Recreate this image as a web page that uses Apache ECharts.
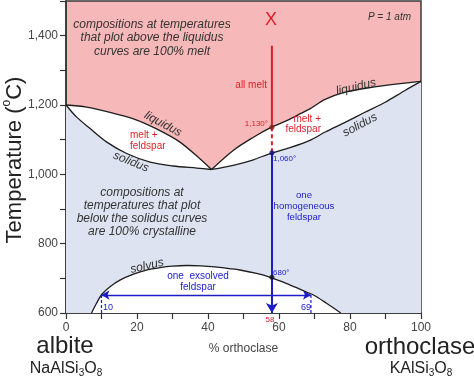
<!DOCTYPE html>
<html><head><meta charset="utf-8">
<script src="https://cdn.jsdelivr.net/npm/echarts@6/dist/echarts.min.js"></script>
<style>html,body{margin:0;padding:0;background:#fff}#c{width:474px;height:378px}</style>
</head><body><div id="c"></div>
<script>
// ---------- data ----------
const liquidusLeftX = [0, 5.8, 12.4, 19.0, 25.5, 32.1, 37.7, 41];
const liquidusLeftT = [1200, 1194, 1179, 1160, 1131, 1093, 1045, 1014];
const solidusLeftX  = [0, 3.0, 6.8, 11.5, 17.1, 23.7, 30.2, 36.8, 41];
const solidusLeftT  = [1200, 1165, 1132, 1093, 1060, 1035, 1024, 1018, 1014];
const liquidusRightX = [41, 47.1, 52.8, 57.5, 62.2, 66.0, 68.7, 73.0, 78.6, 86.1, 93.6, 100];
const liquidusRightT = [1014, 1069, 1107, 1134, 1155, 1175, 1189, 1216, 1237, 1251, 1261, 1268];
const solidusRightX = [41, 47.1, 52.8, 57.5, 63.1, 68.7, 73.0, 78.6, 84.2, 89.9, 95.5, 100];
const solidusRightT = [1014, 1026, 1042, 1060, 1077, 1098, 1122, 1150, 1179, 1208, 1242, 1268];
const solvusX = [7.2, 8.6, 10.1, 12.4, 15.2, 19.0, 22.7, 26.5, 30, 34, 38, 42, 46, 49, 53.7, 57.5, 62.2, 66.0, 69.7, 73.4, 77.4];
const solvusT = [600, 628, 654, 676, 695, 712, 724, 731, 735, 737, 736, 733, 728, 724, 714, 703, 685, 668, 652, 628, 600];

const bulkX = 58;          // % orthoclase of the cooled melt
const startT = 1371;       // top of the cooling path
const liquidusHitT = 1136; // 1,130°
const solidusHitT = 1062;  // 1,060°
const solvusHitT = 703;    // 680°
const exsolveT = 652;      // level of the exsolution arrow
const exsolveLeftX = 10;
const exsolveRightX = 69;

const xTicks = [0, 20, 40, 60, 80, 100];
const yTicks = [600, 800, 1000, 1200, 1400];

// ---------- helpers ----------
const FONT = '"Liberation Sans", Arial, Helvetica, sans-serif';
const zip = (xs, ys) => xs.map((x, i) => [x, ys[i]]);
const liqL = zip(liquidusLeftX, liquidusLeftT);
const solL = zip(solidusLeftX, solidusLeftT);
const liqR = zip(liquidusRightX, liquidusRightT);
const solR = zip(solidusRightX, solidusRightT);
const solv = zip(solvusX, solvusT);

function polygon(points, fill, z) {
  return {
    type: 'custom', coordinateSystem: 'cartesian2d', silent: true, z: z,
    data: [[50, 1000]],
    renderItem: (params, api) => ({
      type: 'polygon',
      shape: { points: points.map(p => api.coord(p)) },
      style: { fill: fill, stroke: null }
    })
  };
}
function curve(pts) {
  return {
    type: 'custom', coordinateSystem: 'cartesian2d', silent: true, z: 5,
    data: [[50, 1000]],
    renderItem: (params, api) => ({
      type: 'polyline',
      shape: { points: pts.map(p => api.coord(p)), smooth: 0.3 },
      style: { fill: null, stroke: '#1e1e1e', lineWidth: 1.3 }
    })
  };
}
const fmtT = v => v >= 1000 ? Math.floor(v / 1000) + ',' + String(v % 1000).padStart(3, '0') : String(v);

const RED = '#dc1f26', BLUE = '#1c1cc8', TXT = '#333333';

const belowSolidus = [[0, 600]].concat(solL, solR.slice(1), [[100, 600]]);
const lensLeft = liqL.concat(solL.slice().reverse().slice(1));
const lensRight = liqR.concat(solR.slice().reverse().slice(1));
const solvusArea = solv.slice();

const option = {
  animation: false,
  grid: { left: 66, right: 53, top: 1, bottom: 65, show: true, backgroundColor: '#f6b8b8',
          borderColor: '#3a3a3a', borderWidth: 1.5 },
  xAxis: {
    type: 'value', min: 0, max: 100, interval: 10,
    axisLine: { show: true, lineStyle: { color: '#333', width: 1.5 } },
    axisTick: { show: true, length: 6, lineStyle: { color: '#333', width: 1.2 } },
    splitLine: { show: false },
    axisLabel: { formatter: v => xTicks.includes(v) ? String(v) : '', color: '#444', fontSize: 12, margin: 9, fontFamily: FONT },
    name: '% orthoclase', nameLocation: 'middle', nameGap: 30,
    nameTextStyle: { color: '#444', fontSize: 12, fontFamily: FONT }
  },
  yAxis: {
    type: 'value', min: 600, max: 1500, interval: 100,
    axisLine: { show: true, lineStyle: { color: '#333', width: 1.5 } },
    axisTick: { show: true, length: 6, lineStyle: { color: '#333', width: 1.2 } },
    splitLine: { show: false },
    axisLabel: { formatter: v => yTicks.includes(v) ? fmtT(v) : '', color: '#444', fontSize: 12, margin: 8, fontFamily: FONT }
  },
  series: [
    polygon(belowSolidus, '#dde3f0', 1),
    polygon(lensLeft, '#ffffff', 2),
    polygon(lensRight, '#ffffff', 2),
    polygon(solvusArea, '#ffffff', 2),
    curve(liqL), curve(solL), curve(liqR), curve(solR), curve(solv),
    { type: 'line', data: [[bulkX, startT], [bulkX, liquidusHitT]], symbol: 'none', silent: true, z: 6,
      lineStyle: { color: RED, width: 2 } },
    { type: 'line', data: [[bulkX, liquidusHitT], [bulkX, solidusHitT]], symbol: 'none', silent: true, z: 6,
      lineStyle: { color: RED, width: 2, type: [4, 3] } },
    { type: 'line', data: [], silent: true, z: 6,
      markLine: { silent: true, animation: false, symbol: ['none', 'arrow'], symbolSize: [9, 10],
        label: { show: false }, lineStyle: { color: BLUE, width: 2, type: 'solid' },
        data: [[{ coord: [bulkX, solidusHitT] }, { coord: [bulkX, 600] }]] } },
    { type: 'line', data: [], silent: true, z: 6,
      markLine: { silent: true, animation: false, symbol: ['arrow', 'arrow'], symbolSize: [7, 8],
        label: { show: false }, lineStyle: { color: BLUE, width: 1.3, type: 'solid' },
        data: [[{ coord: [exsolveLeftX, exsolveT] }, { coord: [exsolveRightX, exsolveT] }]] } },
    { type: 'line', data: [[exsolveLeftX, exsolveT], [exsolveLeftX, 600]], symbol: 'none', silent: true, z: 6,
      lineStyle: { color: BLUE, width: 1.2, type: [3, 2] } },
    { type: 'line', data: [[exsolveRightX, exsolveT], [exsolveRightX, 600]], symbol: 'none', silent: true, z: 6,
      lineStyle: { color: BLUE, width: 1.2, type: [3, 2] } },
    { type: 'scatter', symbolSize: 5, silent: true, z: 7,
      data: [
        { value: [bulkX, liquidusHitT], itemStyle: { color: '#8a1a1a' } },
        { value: [bulkX, solidusHitT], itemStyle: { color: '#10108a' } },
        { value: [bulkX, solvusHitT], itemStyle: { color: '#111' } }
      ] }
  ],
  graphic: [
    { type: 'text', x: 152, y: 38, z: 100, style: { text: 'compositions at temperatures\nthat plot above the liquidus\ncurves are 100% melt',
      fill: TXT, fontSize: 12, fontStyle: 'italic', fontFamily: FONT, align: 'center', verticalAlign: 'middle', lineHeight: 13.5 } },
    { type: 'text', x: 142, y: 212, z: 100, style: { text: 'compositions at\ntemperatures that plot\nbelow the solidus curves\nare 100% crystalline',
      fill: TXT, fontSize: 12, fontStyle: 'italic', fontFamily: FONT, align: 'center', verticalAlign: 'middle', lineHeight: 12.8 } },
    { type: 'text', x: 411, y: 17, z: 100, style: { text: 'P = 1 atm', fill: TXT, fontSize: 10, fontStyle: 'italic', fontFamily: FONT, align: 'right', verticalAlign: 'middle' } },
    { type: 'text', x: 271, y: 20, z: 100, style: { text: 'X', fill: RED, fontSize: 18, fontFamily: FONT, align: 'center', verticalAlign: 'middle' } },
    { type: 'text', x: 267, y: 85, z: 100, style: { text: 'all melt', fill: RED, fontSize: 10, fontFamily: FONT, align: 'right', verticalAlign: 'middle' } },
    { type: 'text', x: 268, y: 124, z: 100, style: { text: '1,130°', fill: RED, fontSize: 8, fontFamily: FONT, align: 'right', verticalAlign: 'middle' } },
    { type: 'text', x: 273, y: 159, z: 100, style: { text: '1,060°', fill: BLUE, fontSize: 8, fontFamily: FONT, align: 'left', verticalAlign: 'middle' } },
    { type: 'text', x: 273, y: 273, z: 100, style: { text: '680°', fill: BLUE, fontSize: 8, fontFamily: FONT, align: 'left', verticalAlign: 'middle' } },
    { type: 'text', x: 270, y: 320, z: 100, style: { text: '58', fill: RED, fontSize: 8, fontFamily: FONT, align: 'center', verticalAlign: 'middle' } },
    { type: 'text', x: 103, y: 308, z: 100, style: { text: '10', fill: BLUE, fontSize: 9, fontFamily: FONT, align: 'left', verticalAlign: 'middle' } },
    { type: 'text', x: 311, y: 308, z: 100, style: { text: '69', fill: BLUE, fontSize: 9, fontFamily: FONT, align: 'right', verticalAlign: 'middle' } },
    { type: 'text', x: 130, y: 141, z: 100, style: { text: 'melt +\nfeldspar', fill: RED, fontSize: 10, fontFamily: FONT, align: 'left', verticalAlign: 'middle', lineHeight: 11 } },
    { type: 'text', x: 321, y: 124, z: 100, style: { text: 'melt +\nfeldspar', fill: RED, fontSize: 10, fontFamily: FONT, align: 'right', verticalAlign: 'middle', lineHeight: 10.5 } },
    { type: 'text', x: 198, y: 281.5, z: 100, style: { text: 'one  exsolved\nfeldspar', fill: BLUE, fontSize: 10, fontFamily: FONT, align: 'center', verticalAlign: 'middle', lineHeight: 11 } },
    { type: 'text', x: 304, y: 206, z: 100, style: { text: 'one\nhomogeneous\nfeldspar', fill: BLUE, fontSize: 9.6, fontFamily: FONT, align: 'center', verticalAlign: 'middle', lineHeight: 11 } },
    { type: 'text', x: 163, y: 124, rotation: -28 * Math.PI / 180, z: 100, style: { text: 'liquidus', fill: TXT, fontSize: 12, fontStyle: 'italic', fontFamily: FONT, align: 'center', verticalAlign: 'middle' } },
    { type: 'text', x: 131, y: 162, rotation: -22 * Math.PI / 180, z: 100, style: { text: 'solidus', fill: TXT, fontSize: 12, fontStyle: 'italic', fontFamily: FONT, align: 'center', verticalAlign: 'middle' } },
    { type: 'text', x: 356, y: 87, rotation: 13 * Math.PI / 180, z: 100, style: { text: 'liquidus', fill: TXT, fontSize: 12, fontStyle: 'italic', fontFamily: FONT, align: 'center', verticalAlign: 'middle' } },
    { type: 'text', x: 360, y: 125, rotation: 28 * Math.PI / 180, z: 100, style: { text: 'solidus', fill: TXT, fontSize: 12, fontStyle: 'italic', fontFamily: FONT, align: 'center', verticalAlign: 'middle' } },
    { type: 'text', x: 147, y: 266, rotation: 13 * Math.PI / 180, z: 100, style: { text: 'solvus', fill: TXT, fontSize: 12, fontStyle: 'italic', fontFamily: FONT, align: 'center', verticalAlign: 'middle' } },
    { type: 'text', x: 15, y: 160, rotation: Math.PI / 2, z: 100, style: {
      text: '{a|Temperature (}{s|o}{a|C)}', align: 'center', verticalAlign: 'middle',
      rich: { a: { fontSize: 22, fill: '#222', fontFamily: FONT, lineHeight: 28 },
              s: { fontSize: 12, fill: '#222', fontFamily: FONT, lineHeight: 11, padding: [0, 0, 17, 0] } } } },
    { type: 'text', x: 65, y: 346, z: 100, style: { text: 'albite', fill: '#222', fontSize: 24, fontFamily: FONT, align: 'center', verticalAlign: 'middle' } },
    { type: 'text', x: 420, y: 347, z: 100, style: { text: 'orthoclase', fill: '#222', fontSize: 24, fontFamily: FONT, align: 'center', verticalAlign: 'middle' } },
    { type: 'text', x: 66, y: 369, z: 100, style: { text: '{a|NaAlSi}{b|3}{a|O}{b|8}', align: 'center', verticalAlign: 'middle',
      rich: { a: { fontSize: 16, fill: '#222', fontFamily: FONT, lineHeight: 18 }, b: { fontSize: 10, fill: '#222', fontFamily: FONT, lineHeight: 10, verticalAlign: 'bottom' } } } },
    { type: 'text', x: 421, y: 369, z: 100, style: { text: '{a|KAlSi}{b|3}{a|O}{b|8}', align: 'center', verticalAlign: 'middle',
      rich: { a: { fontSize: 16, fill: '#222', fontFamily: FONT, lineHeight: 18 }, b: { fontSize: 10, fill: '#222', fontFamily: FONT, lineHeight: 10, verticalAlign: 'bottom' } } } }
  ]
};
const chart = echarts.init(document.getElementById('c'), null, { renderer: 'canvas' });
chart.setOption(option);
</script>
</body></html>
